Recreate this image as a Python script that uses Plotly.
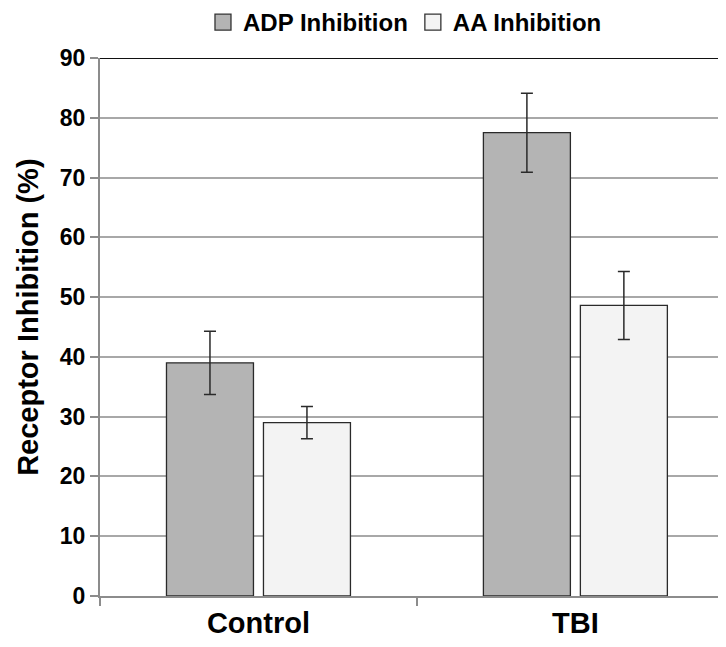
import plotly.graph_objects as go

categories = ["Control", "TBI"]
adp_values = [39.0, 77.5]
adp_errors = [5.3, 6.6]
aa_values = [29.0, 48.6]
aa_errors = [2.7, 5.7]
y_ticks = [0, 10, 20, 30, 40, 50, 60, 70, 80, 90]

FONT = "Liberation Sans, Arial, sans-serif"
ADP_COLOR = "#b4b4b4"
AA_COLOR = "#f3f3f3"
EDGE = "#2a2a2a"

fig = go.Figure()
fig.add_trace(go.Bar(
    name="ADP Inhibition", x=categories, y=adp_values, showlegend=False,
    marker=dict(color=ADP_COLOR, line=dict(color=EDGE, width=1.3)),
    error_y=dict(type="data", array=adp_errors, visible=True,
                 color=EDGE, thickness=1.5, width=6),
))
fig.add_trace(go.Bar(
    name="AA Inhibition", x=categories, y=aa_values, showlegend=False,
    marker=dict(color=AA_COLOR, line=dict(color=EDGE, width=1.3)),
    error_y=dict(type="data", array=aa_errors, visible=True,
                 color=EDGE, thickness=1.5, width=6),
))
# legend entries with larger square swatches
for name, col in [("ADP Inhibition", ADP_COLOR), ("AA Inhibition", AA_COLOR)]:
    fig.add_trace(go.Scatter(
        name=name, x=[None], y=[None], mode="markers",
        marker=dict(symbol="square", size=16, color=col,
                    line=dict(color="#333333", width=1.3)),
    ))

fig.add_shape(type="line", xref="paper", yref="y", x0=0, x1=1, y0=90, y1=90,
              line=dict(color="#111111", width=2))

fig.add_annotation(text="Receptor Inhibition (%)", textangle=-90,
                   xref="paper", yref="paper", x=-0.1165, y=0.517,
                   xanchor="center", yanchor="middle", showarrow=False,
                   font=dict(family=FONT, size=29, weight="bold", color="black"))

fig.update_layout(
    width=710, height=631,
    margin=dict(l=92, r=0, t=43, b=42),
    plot_bgcolor="white", paper_bgcolor="white",
    barmode="group", bargap=0.388, bargroupgap=0.103,
    font=dict(family=FONT, color="black"),
    legend=dict(orientation="h", x=0.4935, xanchor="center",
                y=0.977, yanchor="middle", yref="container",
                font=dict(family=FONT, size=24, weight="bold"),
                itemwidth=30, traceorder="normal", itemsizing="trace"),
    xaxis=dict(range=[-0.5, 1.45], showgrid=False,
               showline=True, linecolor="#8c8c8c", linewidth=2,
               ticks="outside", tickson="boundaries", ticklen=8,
               tickcolor="#8c8c8c", tickwidth=1.5,
               tickfont=dict(family=FONT, size=29, weight="bold", color="black")),
    yaxis=dict(range=[0, 90], tickvals=y_ticks,
               showgrid=True, gridcolor="#a8a8a8", gridwidth=1.5,
               showline=True, linecolor="#8c8c8c", linewidth=2,
               ticks="outside", ticklen=8, tickcolor="#8c8c8c", tickwidth=1.5,
               zeroline=False,
               tickfont=dict(family=FONT, size=23, weight="bold", color="black")),
)

fig.write_html("out.html")
